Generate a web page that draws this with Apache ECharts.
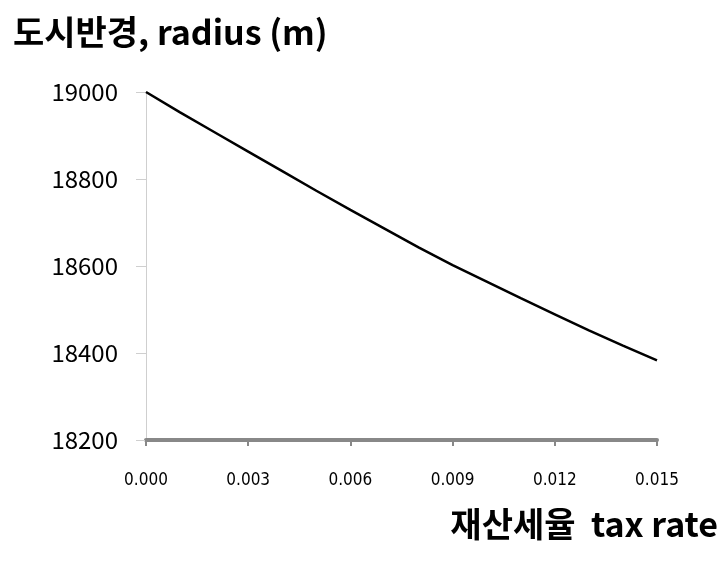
<!DOCTYPE html>
<html>
<head>
<meta charset="utf-8">
<script src="https://cdn.jsdelivr.net/npm/echarts@6/dist/echarts.min.js"></script>
<style>
  html, body { margin: 0; padding: 0; background: #fff; }
  #chart { width: 728px; height: 568px; }
</style>
</head>
<body>
<div id="chart"></div>
<script>
// tax rate vs city radius
const taxRate = [0.000, 0.001, 0.002, 0.003, 0.004, 0.005, 0.006, 0.007,
                 0.008, 0.009, 0.010, 0.011, 0.012, 0.013, 0.014, 0.015];
const radius = [19000, 18953, 18908, 18863, 18818, 18773, 18729, 18686,
                18643, 18602, 18564, 18526, 18489, 18452, 18417, 18383];

const titleText = '도시반경, radius (m)';
const xName = '재산세율  tax rate';

const chart = echarts.init(document.getElementById('chart'));

const font = '"Noto Sans CJK KR", "Noto Sans", sans-serif';

chart.setOption({
  animation: false,
  title: {
    text: titleText,
    left: 8,
    top: 10,
    textStyle: { fontFamily: font, fontSize: 34, fontWeight: 'bold', color: '#000' }
  },
  graphic: [{
    type: 'text',
    right: 10,
    top: 507,
    style: { text: xName, fontFamily: font, fontSize: 34, fontWeight: 'bold', fill: '#000' }
  }],
  grid: { left: 146, right: 71, top: 92, bottom: 128 },
  xAxis: {
    type: 'value',
    min: 0,
    max: 0.015,
    interval: 0.003,
    axisLine: { lineStyle: { color: '#888', width: 4 } },
    axisTick: { show: true, length: 6, lineStyle: { color: '#888', width: 2 } },
    splitLine: { show: false },
    axisLabel: {
      margin: 32,
      fontFamily: '"Liberation Sans Narrow", "DejaVu Sans Condensed", sans-serif',
      fontSize: 17,
      color: '#000',
      formatter: v => v.toFixed(3)
    }
  },
  yAxis: {
    type: 'value',
    min: 18200,
    max: 19000,
    interval: 200,
    axisLine: { show: true, lineStyle: { color: '#cfcfcf', width: 1 } },
    axisTick: { show: true, length: 10, lineStyle: { color: '#cfcfcf' } },
    splitLine: { show: false },
    axisLabel: {
      margin: 28,
      fontFamily: font,
      fontSize: 24,
      color: '#000',
      formatter: v => String(v)
    }
  },
  series: [{
    type: 'line',
    data: taxRate.map((t, i) => [t, radius[i]]),
    showSymbol: false,
    lineStyle: { color: '#000', width: 2.5 }
  }]
});
</script>
</body>
</html>
